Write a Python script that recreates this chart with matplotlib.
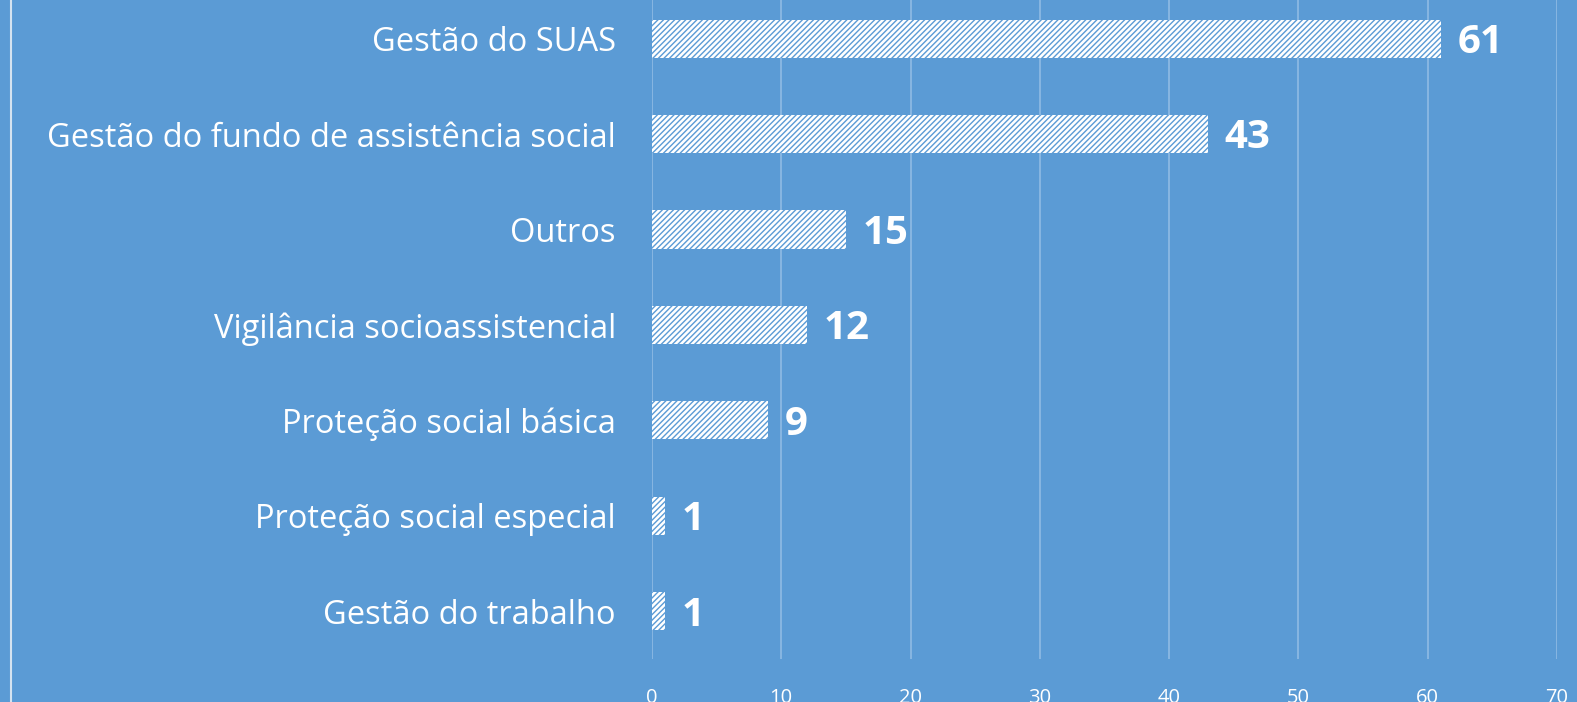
import matplotlib.pyplot as plt
from matplotlib.lines import Line2D

plt.rcParams['font.family'] = ['Open Sans', 'DejaVu Sans']

BG = '#5B9BD5'
GRID = '#8FBBE4'
WHITE = '#FFFFFF'

categories = ['Gestão do SUAS', 'Gestão do fundo de assistência social', 'Outros',
              'Vigilância socioassistencial', 'Proteção social básica',
              'Proteção social especial', 'Gestão do trabalho']
values = [61, 43, 15, 12, 9, 1, 1]
xticks = [0, 10, 20, 30, 40, 50, 60, 70]

plt.rcParams['hatch.color'] = BG
plt.rcParams['hatch.linewidth'] = 1.0

fig = plt.figure(figsize=(15.77, 7.02), dpi=100, facecolor=BG)
ax = fig.add_axes([0.4134, 0.0613, 0.5739, 0.9516])
ax.set_facecolor(BG)

y = list(range(len(categories)))
ax.barh(y, values, height=0.4, color=WHITE, edgecolor=BG, linewidth=0,
        hatch='//////', zorder=3)

for yi, v in zip(y, values):
    ax.text(v + 1.3, yi + 0.04, str(v), ha='left', va='center', fontsize=29,
            fontweight='bold', color=WHITE, zorder=4)

ax.set_xlim(0, 70)
ax.set_ylim(len(categories) - 0.5, -0.5)
ax.set_yticks(y)
ax.set_yticklabels(categories, fontsize=23.5, color=WHITE)
ax.set_xticks(xticks)
ax.set_xticklabels([str(t) for t in xticks], fontsize=14.5, color=WHITE)
ax.tick_params(axis='y', length=0, pad=26)
ax.tick_params(axis='x', length=0, pad=21)
ax.grid(axis='x', color=GRID, linewidth=1.2, zorder=0)
for s in ax.spines.values():
    s.set_visible(False)

# light border line at the left edge
fig.add_artist(Line2D([11 / 1577, 11 / 1577], [0, 1], color='#D5E3F0',
                      linewidth=1.5, transform=fig.transFigure))

fig.savefig('out.png', dpi=100, facecolor=BG)
